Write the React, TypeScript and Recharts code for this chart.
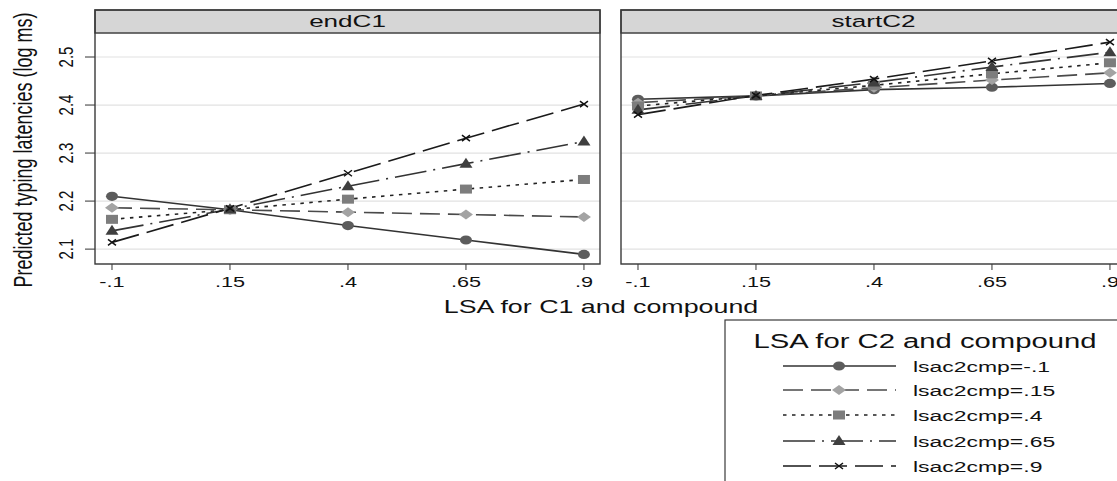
import React from 'react'
import { LineChart, Line, XAxis, YAxis, CartesianGrid } from 'recharts'

// x values and ticks
const lsaC1 = [-0.1, 0.15, 0.4, 0.65, 0.9]
const xTicks = [-0.1, 0.15, 0.4, 0.65, 0.9]
const yTicks = [2.1, 2.2, 2.3, 2.4, 2.5]
const panelTitles = ['endC1', 'startC2']
const seriesLabels = ['lsac2cmp=-.1', 'lsac2cmp=.15', 'lsac2cmp=.4', 'lsac2cmp=.65', 'lsac2cmp=.9']

// endC1 panel
const endC1Neg10 = [2.21, 2.182, 2.149, 2.119, 2.089]
const endC1P15 = [2.186, 2.182, 2.177, 2.172, 2.167]
const endC1P40 = [2.162, 2.182, 2.204, 2.225, 2.245]
const endC1P65 = [2.138, 2.183, 2.231, 2.278, 2.324]
const endC1P90 = [2.114, 2.185, 2.258, 2.331, 2.402]

// startC2 panel
const startC2Neg10 = [2.412, 2.419, 2.432, 2.437, 2.445]
const startC2P15 = [2.405, 2.419, 2.436, 2.452, 2.467]
const startC2P40 = [2.398, 2.419, 2.441, 2.465, 2.488]
const startC2P65 = [2.39, 2.419, 2.447, 2.479, 2.51]
const startC2P90 = [2.38, 2.42, 2.454, 2.492, 2.531]

const FONT = "'Liberation Sans', Arial, Helvetica, sans-serif"
const SHAPES = ['circle', 'diamond', 'square', 'triangle', 'cross']
const DASHES = ['', '20 8', '3.5 5.5', '32 7 2 7', '28 8']
const LINE_COLORS = ['#333', '#4a4a4a', '#222', '#333', '#1a1a1a']

const toRows = (series: number[][]) =>
  lsaC1.map((x, i) => {
    const row: Record<string, number> = { x }
    series.forEach((s, k) => (row['s' + k] = s[i]))
    return row
  })

const endC1Rows = toRows([endC1Neg10, endC1P15, endC1P40, endC1P65, endC1P90])
const startC2Rows = toRows([startC2Neg10, startC2P15, startC2P40, startC2P65, startC2P90])

const fmt = (v: number) => String(v).replace('0.', '.')

function Marker({ cx, cy, shape }: { cx: number; cy: number; shape: string }) {
  if (cx == null || cy == null) return null
  switch (shape) {
    case 'circle':
      return <ellipse cx={cx} cy={cy} rx={6} ry={4.6} fill="#5c5c5c" />
    case 'diamond':
      return <polygon points={`${cx - 7},${cy} ${cx},${cy - 5} ${cx + 7},${cy} ${cx},${cy + 5}`} fill="#a3a3a3" />
    case 'square':
      return <rect x={cx - 6} y={cy - 4.5} width={12} height={9} fill="#7d7d7d" />
    case 'triangle':
      return <polygon points={`${cx - 6.5},${cy + 4} ${cx},${cy - 6} ${cx + 6.5},${cy + 4}`} fill="#3f3f3f" />
    default:
      return (
        <path
          d={`M${cx - 4},${cy - 3}L${cx + 4},${cy + 3}M${cx - 4},${cy + 3}L${cx + 4},${cy - 3}`}
          stroke="#111"
          strokeWidth={1.5}
        />
      )
  }
}

function XTick(props: any) {
  const { x, y, payload } = props
  return (
    <text transform={`translate(${x},${y + 15}) scale(1.55,1)`} textAnchor="middle" fontSize={14} fill="#111" fontFamily={FONT}>
      {fmt(payload.value)}
    </text>
  )
}

function YTick(props: any) {
  const { x, y, payload } = props
  return (
    <text transform={`translate(${x - 10},${y}) scale(1.4,1) rotate(-90)`} textAnchor="middle" fontSize={15} fill="#111" fontFamily={FONT}>
      {payload.value.toFixed(1)}
    </text>
  )
}

function Panel({ rows, left, showY }: { rows: any[]; left: number; showY: boolean }) {
  return (
    <div style={{ position: 'absolute', left, top: 0 }}>
      <LineChart
        width={showY ? 610 : 525}
        height={300}
        data={rows}
        margin={{ top: 33, right: 10, bottom: 6, left: showY ? 0 : 10 }}
      >
        <CartesianGrid vertical={false} stroke="#e2e2e2" strokeWidth={1.2} />
        <XAxis
          dataKey="x"
          type="number"
          domain={[-0.136, 0.934]}
          ticks={xTicks}
          allowDataOverflow
          axisLine={false}
          tickLine={{ stroke: '#333' }}
          tickSize={6}
          height={30}
          interval={0}
          tick={<XTick />}
        />
        <YAxis
          type="number"
          domain={[2.069, 2.55]}
          ticks={yTicks}
          allowDataOverflow
          hide={!showY}
          width={95}
          axisLine={false}
          tickLine={{ stroke: '#333' }}
          tickSize={10}
          interval={0}
          tick={<YTick />}
        />
        {SHAPES.map((shape, k) => (
          <Line
            key={shape}
            dataKey={'s' + k}
            stroke={LINE_COLORS[k]}
            strokeWidth={1.6}
            strokeDasharray={DASHES[k] || undefined}
            isAnimationActive={false}
            activeDot={false}
            dot={(p: any) => <Marker key={`${shape}-${p.index}`} cx={p.cx} cy={p.cy} shape={shape} />}
          />
        ))}
      </LineChart>
    </div>
  )
}

function Overlay() {
  const panels = [95, 621]
  const rowsY = [366, 390, 415, 441, 466]
  return (
    <svg width={1117} height={481} style={{ position: 'absolute', left: 0, top: 0, pointerEvents: 'none' }} fontFamily={FONT}>
      {panels.map((px, i) => (
        <g key={px}>
          <rect x={px} y={10} width={505} height={23} fill="#d6d6d6" stroke="#3a3a3a" strokeWidth={1.4} />
          <rect x={px} y={10} width={505} height={254} fill="none" stroke="#3a3a3a" strokeWidth={1.4} />
          <text transform={`translate(${px + 252.5},27) scale(1.58,1)`} textAnchor="middle" fontSize={16.5} fill="#111">
            {panelTitles[i]}
          </text>
        </g>
      ))}
      <text transform="translate(32,150) scale(1.42,1) rotate(-90)" textAnchor="middle" fontSize={18} fill="#111">
        Predicted typing latencies (log ms)
      </text>
      <text transform="translate(601,313) scale(1.49,1)" textAnchor="middle" fontSize={18} fill="#111">
        LSA for C1 and compound
      </text>
      <rect x={725} y={320} width={420} height={200} fill="#fff" stroke="#3a3a3a" strokeWidth={1.2} />
      <text transform="translate(925,348) scale(1.5,1)" textAnchor="middle" fontSize={19.5} fill="#111">
        LSA for C2 and compound
      </text>
      {SHAPES.map((shape, k) => (
        <g key={shape}>
          <line x1={783} x2={896} y1={rowsY[k]} y2={rowsY[k]} stroke={LINE_COLORS[k]} strokeWidth={1.6} strokeDasharray={DASHES[k] || undefined} />
          <Marker cx={839} cy={rowsY[k]} shape={shape} />
          <text transform={`translate(913,${rowsY[k] + 5.5}) scale(1.53,1)`} fontSize={15} fill="#111">
            {seriesLabels[k]}
          </text>
        </g>
      ))}
    </svg>
  )
}

export default function App() {
  return (
    <div style={{ position: 'absolute', left: 0, top: 0, width: 1117, height: 481, overflow: 'hidden', background: '#fff' }}>
      <Panel rows={endC1Rows} left={0} showY />
      <Panel rows={startC2Rows} left={611} showY={false} />
      <Overlay />
    </div>
  )
}
